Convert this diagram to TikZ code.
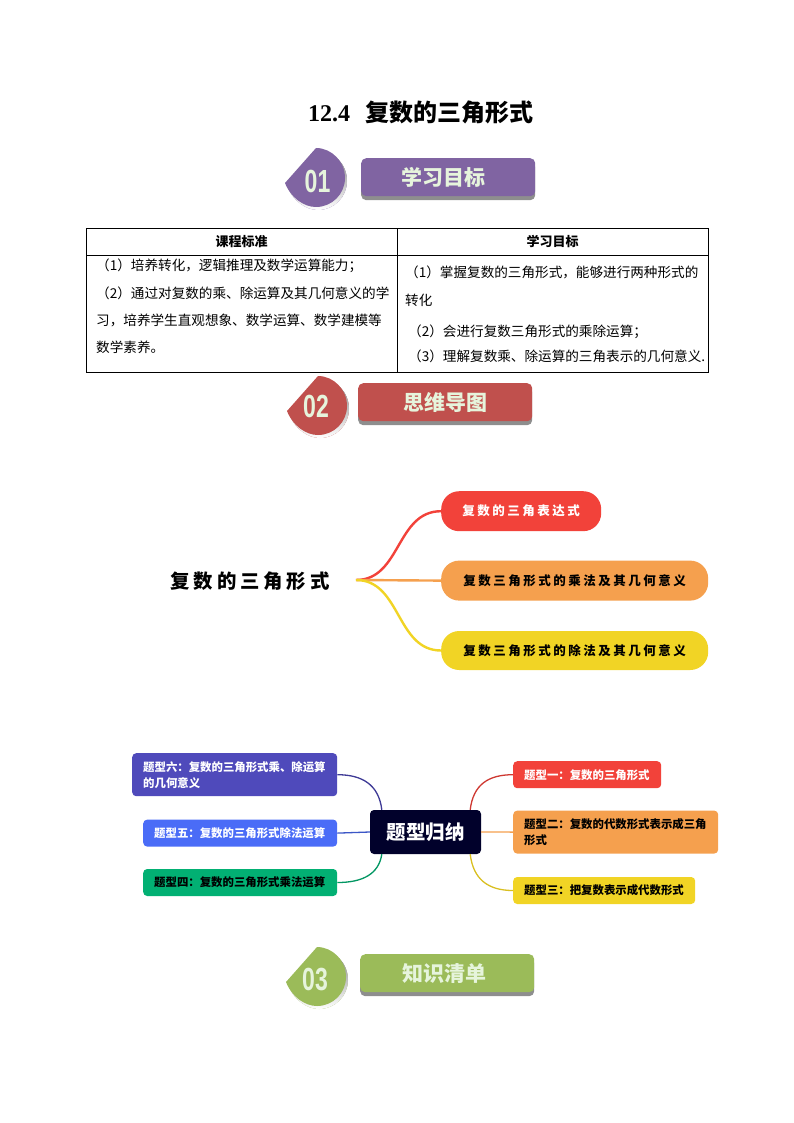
\documentclass[tikz,border=0pt]{standalone}
\usepackage{fontspec}
\setmainfont{Noto Sans CJK SC}
\newfontfamily\titlefont{Liberation Serif}
\newfontfamily\numfont[FakeStretch=.72]{Liberation Sans}
\newfontfamily\spacedfont[LetterSpace=20]{Noto Sans CJK SC}
\usetikzlibrary{calc}
\usetikzlibrary{positioning}
\usetikzlibrary{shadows}
\definecolor{lilac}{HTML}{8064A2}
\definecolor{brick}{HTML}{C0504D}
\definecolor{moss}{HTML}{9BBB59}
\definecolor{shade}{HTML}{8E8E8E}
\definecolor{paper}{HTML}{E6F4DC}
\definecolor{mapred}{HTML}{F2423A}
\definecolor{maporange}{HTML}{F5A04E}
\definecolor{mapyellow}{HTML}{F1D425}
\definecolor{mapindigo}{HTML}{4F4ABB}
\definecolor{mapblue}{HTML}{4A6CF7}
\definecolor{mapgreen}{HTML}{02B073}
\definecolor{mapdark}{HTML}{01012B}
\tikzset{
	x=1pt, y=-1pt,
	badge/.pic={
		\fill[shade] (2,-27) .. controls (18,-27) and (31,-14) .. (31,3) .. controls (31,19) and (18,32) .. (2,32) .. controls (-10,32) and (-23,23) .. (-29,8) -- cycle;
		\fill[pic actions] (0,-30) .. controls (16,-30) and (29,-16) .. (29,0) .. controls (29,16) and (16,29) .. (0,29) .. controls (-12,29) and (-25,20) .. (-31,5) -- cycle;
	},
	number/.style={
		text=paper,
		font=\numfont\bfseries\fontsize{32}{32}\selectfont,
		inner sep=0pt},
	banner/.style={
		rectangle,
		rounded corners=5pt,
		minimum width=174pt,
		minimum height=38pt,
		inner sep=0pt,
		text=paper,
		font=\bfseries\fontsize{21}{21}\selectfont,
		drop shadow={shadow xshift=0pt, shadow yshift=-4pt, fill=shade, opacity=1}},
	headcell/.style={
		rectangle,
		draw=black, line width=.8pt,
		minimum height=27pt,
		inner sep=0pt, outer sep=0pt,
		font=\bfseries\fontsize{13}{15}\selectfont},
	bodycell/.style={
		rectangle,
		draw=black, line width=.8pt,
		minimum height=117pt,
		inner sep=0pt, outer sep=0pt},
	celltext/.style={
		align=left,
		inner sep=0pt,
		font=\fontsize{13.6}{27.3}\selectfont},
	pill/.style={
		rectangle,
		rounded corners=18pt,
		minimum height=40pt,
		inner sep=0pt,
		font=\spacedfont\bfseries\fontsize{12.5}{14}\selectfont},
	topic/.style={
		rectangle,
		rounded corners=4pt,
		minimum height=27pt,
		inner ysep=0pt, inner xsep=11pt,
		align=left,
		font=\bfseries\fontsize{11.4}{16}\selectfont},
	branch/.style={draw, line width=2.4pt},
	twig/.style={draw, line width=1.3pt},
}
\begin{document}
\begin{tikzpicture}
	\useasboundingbox (0,0) rectangle (793,1123);
	\node[font=\bfseries\fontsize{24}{28}\selectfont] (titel) at (420.5,112) {{\titlefont 12.4}\hspace{15pt}复数的三角形式};

	% section heads
	\pic[fill=lilac] at (316,178) {badge};
	\node[number] (nulleins) at (317.5,181) {01};
	\node[banner, fill=lilac, anchor=north west] (ziele) at (361,158) {\raisebox{2pt}{学习目标}\kern10pt};

	\pic[fill=brick] at (318,406) {badge};
	\node[number] (nullzwei) at (316,406) {02};
	\node[banner, fill=brick, anchor=north west] (karte) at (358,383) {\raisebox{1pt}{思维导图}};

	\pic[fill=moss] at (317,977) {badge};
	\node[number] (nulldrei) at (315,979) {03};
	\node[banner, fill=moss, anchor=north west] (liste) at (360,954) {\raisebox{-2pt}{知识清单}\kern5pt};

	% table
	\node[headcell, minimum width=311pt, anchor=north west] (kopfa) at (86,228) {课程标准};
	\node[headcell, minimum width=311pt, right=0pt of kopfa] (kopfb) {学习目标};
	\node[bodycell, minimum width=311pt, below=0pt of kopfa] (zellea) {};
	\node[bodycell, minimum width=311pt, below=0pt of kopfb] (zelleb) {};
	\node[celltext, anchor=north west] (texta) at (96,259) {（1）培养转化，逻辑推理及数学运算能力；\\（2）通过对复数的乘、除运算及其几何意义的学\\习，培养学生直观想象、数学运算、数学建模等\\数学素养。};
	\node[celltext, anchor=north west] (textb) at (405,266) {（1）掌握复数的三角形式，能够进行两种形式的\\转化};
	\node[celltext, anchor=north west] (textc) at (408,325) {（2）会进行复数三角形式的乘除运算；};
	\node[celltext, anchor=north west] (textd) at (408,350) {（3）理解复数乘、除运算的三角表示的几何意义.};

	% first map
	\node[font=\spacedfont\bfseries\fontsize{19.4}{22}\selectfont] (wurzel) at (250,581) {复数的三角形式};
	\coordinate (ast) at (356,580);
	\node[pill, fill=mapred, text=white, minimum width=160pt, anchor=north west] (pilla) at (441,491) {复数的三角表达式};
	\node[pill, fill=maporange, minimum width=267pt, below=29pt of pilla.south west, anchor=north west] (pillb) {复数三角形式的乘法及其几何意义};
	\node[pill, fill=mapyellow, minimum width=267pt, minimum height=39pt, below=30pt of pillb.south west, anchor=north west] (pillc) {复数三角形式的除法及其几何意义};
	\draw[branch, mapred] (ast) .. controls +(45,0) and +(-45,0) .. (pilla.west);
	\draw[branch, maporange] (ast) -- (pillb.west);
	\draw[branch, mapyellow] (ast) .. controls +(45,0) and +(-45,0) .. (pillc.west);

	% second map
	\node[rectangle, rounded corners=4pt, fill=mapdark, text=white, minimum width=111pt, minimum height=44pt, inner sep=0pt, font=\bfseries\fontsize{19.5}{24}\selectfont] (kern) at (425.5,832) {题型归纳};

	\node[topic, fill=mapindigo, text=white, text width=183pt, minimum height=43pt, anchor=north west] (sechs) at (132,753) {题型六：复数的三角形式乘、除运算\\的几何意义};
	\node[topic, fill=mapblue, text=white, text width=172pt, below=23pt of sechs.south east, anchor=north east] (fuenf) {题型五：复数的三角形式除法运算};
	\node[topic, fill=mapgreen, text width=172pt, below=22pt of fuenf.south east, anchor=north east] (vier) {题型四：复数的三角形式乘法运算};

	\node[topic, fill=mapred, text=white, text width=126pt, anchor=north west] (eins) at (513,761) {题型一：复数的三角形式};
	\node[topic, fill=maporange, text width=183pt, minimum height=43pt, below=22pt of eins.south west, anchor=north west] (zwei) {题型二：复数的代数形式表示成三角\\形式};
	\node[topic, fill=mapyellow, text width=160pt, below=23pt of zwei.south west, anchor=north west] (drei) {题型三：把复数表示成代数形式};

	\draw[twig, mapindigo!80!black] ([xshift=12pt]kern.north west) .. controls +(-3,-25) and +(25,0) .. (sechs.east);
	\draw[twig, mapblue!80!black] (kern.west) -- (fuenf.east);
	\draw[twig, mapgreen!85!black] ([xshift=12pt]kern.south west) .. controls +(-3,20) and +(25,0) .. (vier.east);
	\draw[twig, mapred!85!black] ([xshift=-11pt]kern.north east) .. controls +(3,-25) and +(-25,0) .. (eins.west);
	\draw[twig, maporange] (kern.east) -- (zwei.west);
	\draw[twig, mapyellow!90!black] ([xshift=-11pt]kern.south east) .. controls +(3,25) and +(-25,0) .. (drei.west);
\end{tikzpicture}
\end{document}
